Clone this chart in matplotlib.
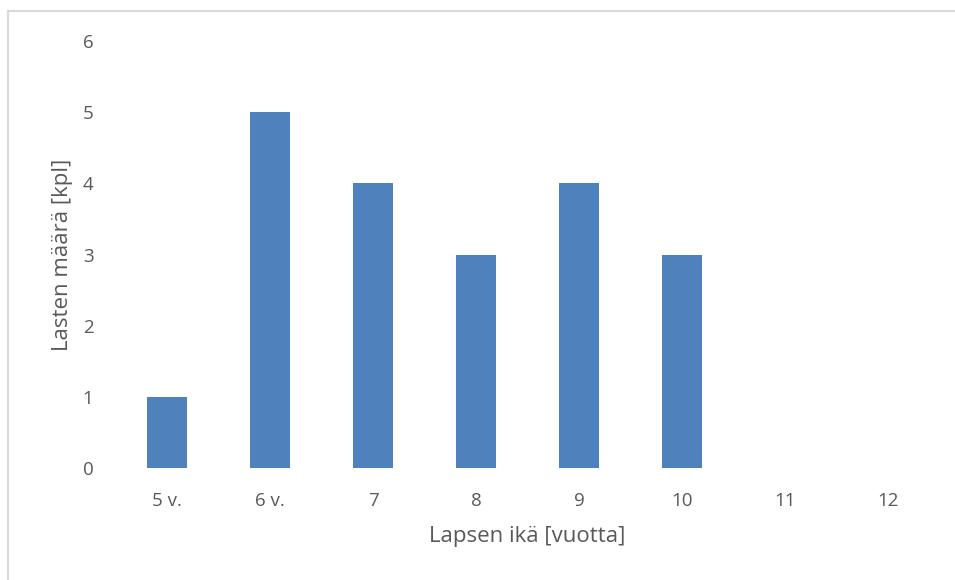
import matplotlib.pyplot as plt
from matplotlib.lines import Line2D

ikaryhmat = ["5 v.", "6 v.", "7", "8", "9", "10", "11", "12"]
lapsia = [1, 5, 4, 3, 4, 3, 0, 0]
y_ticks = [0, 1, 2, 3, 4, 5, 6]

plt.rcParams["font.family"] = ["Open Sans", "DejaVu Sans"]
teksti = "#595959"
sininen = "#4f81bd"

fig = plt.figure(figsize=(9.55, 5.8), dpi=100)
ax = fig.add_axes([0.121, 0.193, 0.863, 0.736])

x = range(len(ikaryhmat))
ax.bar(x, lapsia, width=0.39, color=sininen)

ax.set_xlim(-0.5, len(ikaryhmat) - 0.5)
ax.set_ylim(0, 6)
ax.set_xticks(list(x))
ax.set_xticklabels(ikaryhmat)
ax.set_yticks(y_ticks)

for s in ax.spines.values():
    s.set_visible(False)
ax.tick_params(axis="both", length=0, labelsize=13.5, colors=teksti)
ax.tick_params(axis="y", pad=16)
ax.tick_params(axis="x", pad=17)

ax.set_xlabel("Lapsen ikä [vuotta]", fontsize=16, color=teksti, labelpad=12)
ax.set_ylabel("Lasten määrä [kpl]", fontsize=16, color=teksti, labelpad=7)

# kehyksen ylä- ja vasen reuna
fig.add_artist(Line2D([0.0084, 1.0], [0.981, 0.981], color="#d9d9d9", lw=1.5,
                      transform=fig.transFigure))
fig.add_artist(Line2D([0.0084, 0.0084], [0.0, 0.981], color="#d9d9d9", lw=1.5,
                      transform=fig.transFigure))

fig.savefig("out.png", dpi=100)
